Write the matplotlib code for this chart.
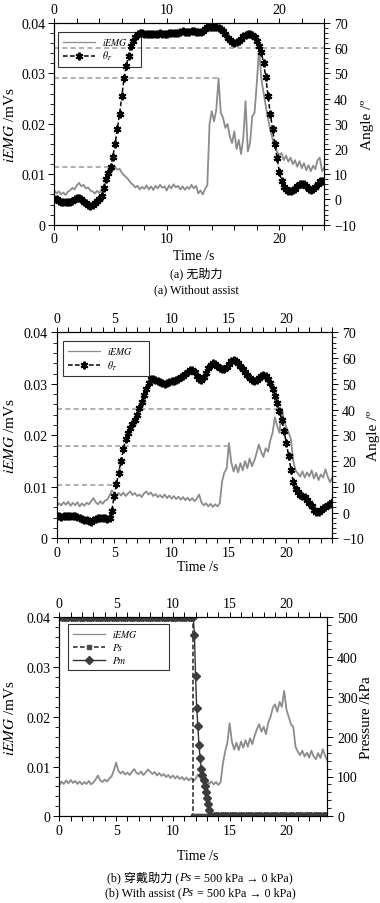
import numpy as np
import matplotlib
matplotlib.use("Agg")
import matplotlib.pyplot as plt
from matplotlib.ticker import MultipleLocator, FuncFormatter
from matplotlib.lines import Line2D
from matplotlib.offsetbox import TextArea, HPacker, AnnotationBbox

plt.rcParams['font.family'] = ['Liberation Serif', 'Noto Sans CJK SC', 'DejaVu Sans']
plt.rcParams['mathtext.fontset'] = 'stix'
plt.rcParams['axes.unicode_minus'] = True

# ---------------- data ----------------
time_step = 0.2
time_a = np.round(np.arange(0, 24.0 + 1e-9, time_step), 1)   # panels (a) and middle
time_b = np.round(np.arange(0, 23.6 + 1e-9, time_step), 1)   # pressure panel

emg_a = [
    0.0068, 0.0062, 0.0066, 0.0060, 0.0064, 0.0059, 0.0065, 0.0068, 0.0073, 0.0070,
    0.0078, 0.0083, 0.0076, 0.0079, 0.0072, 0.0074, 0.0068, 0.0066, 0.0062, 0.0067,
    0.0063, 0.0069, 0.0078, 0.0086, 0.0094, 0.0101, 0.0108, 0.0115, 0.0109, 0.0111,
    0.0103, 0.0098, 0.0094, 0.0089, 0.0083, 0.0079, 0.0074, 0.0077, 0.0070, 0.0075,
    0.0071, 0.0078, 0.0070, 0.0076, 0.0069, 0.0077, 0.0072, 0.0079, 0.0073, 0.0076,
    0.0068, 0.0078, 0.0072, 0.0080, 0.0074, 0.0077, 0.0070, 0.0076, 0.0069, 0.0075,
    0.0071, 0.0079, 0.0072, 0.0077, 0.0062, 0.0068, 0.0060, 0.0071, 0.0078, 0.0200,
    0.0225, 0.0205, 0.0228, 0.0290, 0.0222, 0.0212, 0.0192, 0.0200, 0.0175, 0.0162,
    0.0185, 0.0150, 0.0168, 0.0140, 0.0172, 0.0245, 0.0145, 0.0162, 0.0215, 0.0222,
    0.0280, 0.0350, 0.0290, 0.0262, 0.0235, 0.0210, 0.0188, 0.0170, 0.0155, 0.0145,
    0.0138, 0.0142, 0.0128, 0.0137, 0.0125, 0.0133, 0.0120, 0.0128, 0.0115, 0.0126,
    0.0112, 0.0122, 0.0108, 0.0118, 0.0106, 0.0117, 0.0110, 0.0128, 0.0133, 0.0106,
    0.0114]

theta_a = [
    0, 0, -0.5, -1, -1, -1, -1, -1, -0.5, 0,
    0.5, 0.5, 0, -1, -1.5, -2, -2.5, -2.3, -1.5, -0.5,
    0, 1.5, 4.5, 8, 10.5, 13, 17, 22, 28, 34,
    41, 48, 53, 57, 61, 63, 64.5, 65.5, 66, 66,
    65.8, 65.7, 65.5, 65.5, 65.5, 65.6, 65.8, 66, 65.8, 65.7,
    65.8, 65.9, 66, 66, 66, 66.1, 66.5, 66.8, 66.6, 66.3,
    66.5, 66.8, 66.8, 66.6, 66.5, 66.6, 67, 67.8, 68.3, 68.5,
    68.5, 68.4, 68.3, 68, 67.5, 66.8, 65.5, 64.2, 63.3, 62.6,
    62.2, 62.3, 62.8, 63.8, 64.8, 65.4, 65.5, 65.5, 65.3, 64.5,
    63, 61, 58.5, 54, 48.5, 41, 34, 28, 22, 16.5,
    11, 7.5, 5, 4, 3.5, 3.4, 3.6, 4.3, 5.3, 6,
    6.3, 6.1, 5.2, 4.3, 3.8, 4, 5, 6.3, 7.2, 7.5,
    7.5]

emg_b = [
    0.0062, 0.0068, 0.0064, 0.0070, 0.0065, 0.0071, 0.0063, 0.0069, 0.0064, 0.0070,
    0.0062, 0.0068, 0.0063, 0.0069, 0.0066, 0.0072, 0.0078, 0.0070, 0.0066, 0.0072,
    0.0067, 0.0073, 0.0075, 0.0083, 0.0093, 0.0088, 0.0082, 0.0088, 0.0083, 0.0089,
    0.0082, 0.0087, 0.0091, 0.0084, 0.0088, 0.0082, 0.0085, 0.0080, 0.0087, 0.0091,
    0.0085, 0.0089, 0.0082, 0.0086, 0.0080, 0.0084, 0.0079, 0.0085, 0.0078, 0.0083,
    0.0077, 0.0082, 0.0076, 0.0081, 0.0075, 0.0080, 0.0074, 0.0079, 0.0073, 0.0078,
    0.0072, 0.0077, 0.0085, 0.0070, 0.0064, 0.0068, 0.0062, 0.0067, 0.0061, 0.0066,
    0.0062, 0.0068, 0.0110, 0.0128, 0.0135, 0.0185, 0.0148, 0.0130, 0.0143, 0.0128,
    0.0146, 0.0132, 0.0150, 0.0136, 0.0155, 0.0140, 0.0150, 0.0165, 0.0182, 0.0168,
    0.0158, 0.0175, 0.0168, 0.0190, 0.0205, 0.0235, 0.0218, 0.0205, 0.0252, 0.0228,
    0.0215, 0.0205, 0.0192, 0.0150, 0.0132, 0.0126, 0.0120, 0.0130, 0.0118, 0.0128,
    0.0120, 0.0132, 0.0116, 0.0127, 0.0113, 0.0124, 0.0118, 0.0134, 0.0120, 0.0109,
    0.0118]

theta_b = [
    -1.5, -1.5, -1.6, -1.5, -1.4, -1.5, -1.4, -1.2, -1.3, -1.8,
    -2.3, -2.6, -2.8, -3.0, -3.3, -3.6, -3.0, -2.4, -2.2, -2.3,
    -2.2, -2.3, -2.4, -2.0, 0.5, 6.5, 11, 15.5, 20, 24.5,
    28.5, 31, 33, 34.5, 36, 38, 40.5, 43, 45.5, 48,
    50.5, 51.7, 51.8, 51.5, 51, 50.6, 50.2, 49.8, 50.2, 50.8,
    51, 51.2, 51.5, 52, 52.5, 53, 53.8, 54.6, 55.3, 55.4,
    54.6, 53.2, 52, 51.6, 52.5, 54.3, 56, 57.3, 58, 57.8,
    57, 56.2, 55.6, 55.6, 56.5, 57.8, 58.8, 59.2, 59, 58.2,
    57, 55.8, 54.6, 53.4, 52.2, 51.4, 51.2, 51.5, 52.2, 53,
    53.3, 53, 52, 50.5, 48, 45.3, 42.5, 39.3, 36, 31.5,
    27, 22, 16.5, 12, 9.2, 7.8, 7, 6.6, 6, 5,
    3.9, 2.6, 1, 0.2, 0.4, 1, 1.6, 2.3, 3, 3.5,
    4]

emg_c = [
    0.0062, 0.0070, 0.0065, 0.0072, 0.0066, 0.0073, 0.0067, 0.0071, 0.0065, 0.0070,
    0.0064, 0.0069, 0.0065, 0.0071, 0.0064, 0.0068, 0.0074, 0.0082, 0.0072, 0.0069,
    0.0074, 0.0070, 0.0076, 0.0080, 0.0092, 0.0108, 0.0092, 0.0086, 0.0090, 0.0084,
    0.0088, 0.0083, 0.0090, 0.0095, 0.0087, 0.0085, 0.0090, 0.0083, 0.0088, 0.0094,
    0.0090, 0.0085, 0.0089, 0.0082, 0.0087, 0.0081, 0.0085, 0.0079, 0.0083, 0.0077,
    0.0082, 0.0076, 0.0081, 0.0075, 0.0079, 0.0073, 0.0078, 0.0072, 0.0077, 0.0071,
    0.0075, 0.0084, 0.0078, 0.0070, 0.0066, 0.0071, 0.0065, 0.0070, 0.0064, 0.0069,
    0.0063, 0.0068, 0.0105, 0.0130, 0.0148, 0.0187, 0.0150, 0.0134, 0.0148, 0.0133,
    0.0150, 0.0138, 0.0153, 0.0140, 0.0157, 0.0145, 0.0162, 0.0175, 0.0185, 0.0170,
    0.0180, 0.0165, 0.0188, 0.0200, 0.0218, 0.0225, 0.0210, 0.0230, 0.0220, 0.0252,
    0.0215, 0.0200, 0.0185, 0.0180, 0.0140, 0.0130, 0.0123, 0.0132, 0.0120, 0.0128,
    0.0118, 0.0132, 0.0120, 0.0115, 0.0127, 0.0117, 0.0135, 0.0122, 0.0112]

# dashed peak-reference lines (level, end time)
peak_levels_a = [0.0115, 0.029, 0.035]
peak_ends_a = [5.2, 14.6, 24.0]
peak_levels_b = [0.0104, 0.018, 0.0252]
peak_ends_b = [5.0, 15.0, 19.6]

# pressures
ps_switch_time = 11.8
ps_on, ps_off = 500, 0
pm_release_time = [11.9, 12.0, 12.1, 12.2, 12.3, 12.4, 12.5, 12.6, 12.7, 12.8, 12.9, 13.0, 13.1, 13.2]
pm_release_val = [455, 352, 272, 226, 179, 146, 119, 104, 91, 77, 60, 45, 31, 17]
pm_zero_from = 13.4

# ---------------- figure ----------------
W, H = 380, 904
fig = plt.figure(figsize=(W / 100, H / 100), dpi=100)

EMG_C = '#8c8c8c'
REF_C = '#a2a2a2'
TICK_FS = 10
LAB_FS = 10
YLAB_FS = 11


def make_panel(rect, xmax, xmaj, xmin_, y2lim, y2maj, y2min):
    l, t, r, b = rect
    ax = fig.add_axes([l / W, 1 - b / H, (r - l) / W, (b - t) / H])
    ax2 = ax.twinx()
    ax.set_xlim(0, xmax)
    ax.set_ylim(0, 0.04)
    ax2.set_ylim(*y2lim)
    ax.xaxis.set_major_locator(MultipleLocator(xmaj))
    ax.xaxis.set_minor_locator(MultipleLocator(xmin_))
    ax.yaxis.set_major_locator(MultipleLocator(0.01))
    ax.yaxis.set_minor_locator(MultipleLocator(0.002))
    ax.yaxis.set_major_formatter(FuncFormatter(lambda v, p: '0' if abs(v) < 1e-9 else f'{v:.2f}'))
    ax2.yaxis.set_major_locator(MultipleLocator(y2maj))
    ax2.yaxis.set_minor_locator(MultipleLocator(y2min))
    ax.tick_params(axis='x', which='both', direction='out', top=True, labeltop=True,
                   length=3.3, width=0.7, labelsize=TICK_FS, pad=2)
    ax.tick_params(axis='y', which='major', direction='out', length=4.5, width=0.7,
                   labelsize=TICK_FS, pad=2)
    ax.tick_params(axis='y', which='minor', direction='out', length=3, width=0.6)
    ax2.tick_params(axis='y', which='major', direction='out', length=4.5, width=0.7,
                    labelsize=TICK_FS, pad=2.5)
    ax2.tick_params(axis='y', which='minor', direction='out', length=3, width=0.6)
    for a in (ax, ax2):
        for s in a.spines.values():
            s.set_linewidth(0.8)
    return ax, ax2


def ftext(x, y, s, **kw):
    kw.setdefault('fontsize', LAB_FS)
    fig.text(x / W, 1 - y / H, s, ha='center', va='center', **kw)


def rich(parts, xc, yc, size=8.7):
    areas = [TextArea(s, textprops=dict(fontsize=size,
                                        fontstyle='italic' if it else 'normal',
                                        family=['Liberation Serif', 'Noto Sans CJK SC']))
             for s, it in parts]
    box = HPacker(children=areas, align='baseline', pad=0, sep=0)
    ab = AnnotationBbox(box, (xc / W, 1 - yc / H), xycoords='figure fraction',
                        frameon=False, box_alignment=(0.5, 0.5), pad=0)
    fig.add_artist(ab)


def theta_style():
    return dict(color='black', ls=(0, (3, 1.6)), lw=1.1, marker=(6, 2, 0), ms=5.5, mew=1.5)


def legend(ax2, handles, labels, x0, ytop, w):
    lg = ax2.legend(handles, labels, loc='upper left', bbox_to_anchor=(x0, ytop - 0.3, w, 0.3),
                    mode='expand', borderaxespad=0, fancybox=False, edgecolor='black',
                    facecolor='none', fontsize=7, handlelength=3.3, handletextpad=0.7,
                    labelspacing=0.2, borderpad=0.45, framealpha=None)
    lg.get_frame().set_linewidth(0.8)
    return lg


# ---- panel 1 ----
ax, ax2 = make_panel((54.3, 24, 324.3, 225.7), 24, 10, 2, (-10, 70), 10, 2)
ax.plot(time_a, emg_a, color=EMG_C, lw=1.3)
for lvl, end in zip(peak_levels_a, peak_ends_a):
    ax.plot([0, end], [lvl, lvl], color=REF_C, lw=1.2, ls=(0, (3, 2)))
ax2.plot(time_a, theta_a, **theta_style())
legend(ax2, [Line2D([], [], color=EMG_C, lw=0.9), Line2D([], [], **theta_style())],
       [r'$iEMG$', r'$\theta_T$'], 0.0148, 0.957, 0.305)
ftext(10, 124.9, r'$iEMG$ /mVs', rotation=90, fontsize=YLAB_FS)
ftext(367, 124.9, 'Angle /º', rotation=90, fontsize=YLAB_FS)
ftext(194, 257, 'Time /s')
ftext(196, 274, '(a) 无助力', fontsize=8.7)
ftext(196, 290.5, '(a) Without assist', fontsize=8.7)

# ---- panel 2 ----
ax, ax2 = make_panel((56.7, 333.3, 332.3, 539.3), 24, 5, 1, (-10, 70), 10, 2)
ax.plot(time_a, emg_b, color=EMG_C, lw=1.3)
for lvl, end in zip(peak_levels_b, peak_ends_b):
    ax.plot([0, end], [lvl, lvl], color=REF_C, lw=1.2, ls=(0, (3, 2)))
ax2.plot(time_a, theta_b, **theta_style())
legend(ax2, [Line2D([], [], color=EMG_C, lw=0.9), Line2D([], [], **theta_style())],
       [r'$iEMG$', r'$\theta_T$'], 0.024, 0.959, 0.31)
ftext(10, 436.3, r'$iEMG$ /mVs', rotation=90, fontsize=YLAB_FS)
ftext(373, 436.3, 'Angle /º', rotation=90, fontsize=YLAB_FS)
ftext(198, 568, 'Time /s')

# ---- panel 3 ----
ax, ax2 = make_panel((59.3, 618.3, 327.3, 817.3), 23.6, 5, 1, (0, 500), 100, 20)
ax.plot(time_b, emg_c, color=EMG_C, lw=1.3)

on_t = time_b[time_b <= ps_switch_time]
off_t = time_b[time_b >= ps_switch_time]
ps_time = np.concatenate([on_t, off_t])
ps_val = np.concatenate([np.full(len(on_t), ps_on), np.full(len(off_t), ps_off)])
zero_t = time_b[time_b >= pm_zero_from]
pm_time = np.concatenate([on_t, pm_release_time, zero_t])
pm_val = np.concatenate([np.full(len(on_t), ps_on), pm_release_val, np.full(len(zero_t), ps_off)])

ps_style = dict(color='#222222', ls=(0, (3, 1.6)), lw=1.1, marker='s', ms=3.4,
                mfc='#4a4a4a', mec='#4a4a4a')
pm_style = dict(color='#333333', ls='-', lw=1.0, marker='D', ms=3.6,
                mfc='#3c3c3c', mec='#3c3c3c')
ax2.plot(ps_time, ps_val, **ps_style)
ax2.plot(pm_time, pm_val, **pm_style)
legend(ax2, [Line2D([], [], color=EMG_C, lw=0.9), Line2D([], [], **ps_style),
             Line2D([], [], **pm_style)],
       [r'$iEMG$', r'$Ps$', r'$Pm$'], 0.0336, 0.966, 0.376)
ftext(10, 717.8, r'$iEMG$ /mVs', rotation=90, fontsize=YLAB_FS)
ftext(367, 717.8, 'Pressure /kPa', rotation=90, fontsize=YLAB_FS)
ftext(198, 857, 'Time /s')
rich([('(b) 穿戴助力 (', False), ('Ps', True), (' = 500 kPa → 0 kPa)', False)], 200, 877.7)
rich([('(b) With assist (', False), ('Ps', True), (' = 500 kPa → 0 kPa)', False)], 200, 893.3)

fig.savefig('out.png', dpi=100)
